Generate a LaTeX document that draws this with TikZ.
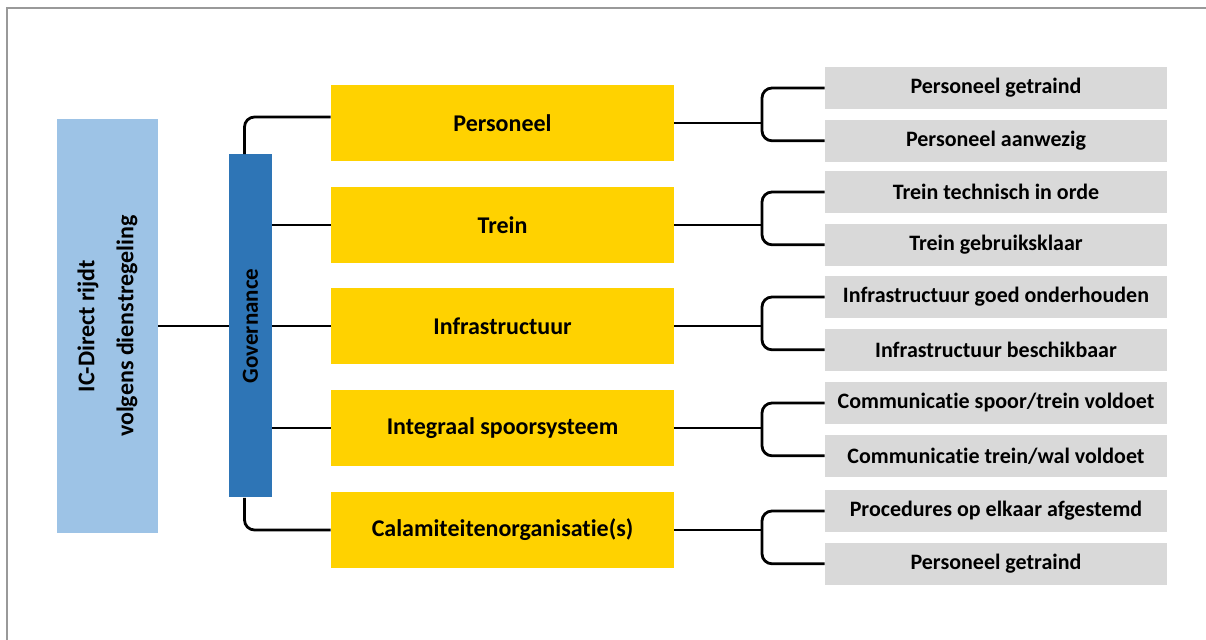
\documentclass[tikz,border=0pt]{standalone}
\usepackage{fontspec}
\setmainfont{Carlito}[RawFeature={-liga;-calt;-dlig}]
\usepackage{tikz}
\usetikzlibrary{positioning}
\definecolor{icblue}{HTML}{9DC3E6}
\definecolor{govblue}{HTML}{2E75B6}
\definecolor{aspectyellow}{HTML}{FFD200}
\definecolor{condgrey}{HTML}{D9D9D9}
\tikzstyle{box}=[inner sep=0pt,text=black]
\tikzstyle{top}=[box,fill=icblue,rotate=90,minimum width=207pt,minimum height=50.5pt,align=center,font=\fontsize{12}{19.5}\selectfont\bfseries]
\tikzstyle{gov}=[box,fill=govblue,rotate=90,minimum width=171.5pt,minimum height=21.5pt,font=\fontsize{11.5}{13}\selectfont\bfseries]
\tikzstyle{aspect}=[box,fill=aspectyellow,minimum width=171.5pt,minimum height=38pt,font=\fontsize{12}{14}\selectfont\bfseries]
\tikzstyle{cond}=[box,fill=condgrey,minimum width=171pt,minimum height=21pt,font=\fontsize{11}{13}\selectfont\bfseries]
\tikzstyle{link}=[line width=1.4pt]
\tikzstyle{brace}=[link,rounded corners=5pt]
\begin{document}
\begin{tikzpicture}[x=0.5pt,y=-0.5pt]
	\useasboundingbox (0,0) rectangle (1206,640);
	\draw[gray!80,line width=1pt] (7,640) -- (7,8) -- (1206,8);
	\node[top] (ic)  at (107.5,326) {IC-Direct rijdt\\volgens dienstregeling};
	\node[gov] (gov) at (250.5,326) {Governance};
	\node[aspect] (pers)  at (502.5,123) {Personeel};
	\node[aspect] (trein) at (502.5,225) {Trein};
	\node[aspect] (infra) at (502.5,326) {Infrastructuur};
	\node[aspect] (integ) at (502.5,428) {Integraal spoorsysteem};
	\node[aspect] (calam) at (502.5,530) {Calamiteitenorganisatie(s)};
	\node[cond] (pers-a)  at (996,88)  {Personeel getraind};
	\node[cond, below=5pt of pers-a]  (pers-b)  {Personeel aanwezig};
	\node[cond] (trein-a) at (996,192) {Trein technisch in orde};
	\node[cond, below=5pt of trein-a] (trein-b) {Trein gebruiksklaar};
	\node[cond] (infra-a) at (996,297) {Infrastructuur goed onderhouden};
	\node[cond, below=5pt of infra-a] (infra-b) {Infrastructuur beschikbaar};
	\node[cond] (integ-a) at (996,403) {Communicatie spoor/trein voldoet};
	\node[cond, below=5pt of integ-a] (integ-b) {Communicatie trein/wal voldoet};
	\node[cond] (calam-a) at (996,511) {Procedures op elkaar afgestemd};
	\node[cond, below=5pt of calam-a] (calam-b) {Personeel getraind};
	\coordinate (bx) at (762,0);
	\draw[link] (ic) -- (gov);
	\draw[brace] ([xshift=-3pt]gov.east) |- ([yshift=3pt]pers.west);
	\draw[link] (gov.south |- trein.west) -- (trein.west);
	\draw[link] (gov.south |- infra.west) -- (infra.west);
	\draw[link] (gov.south |- integ.west) -- (integ.west);
	\draw[brace] ([xshift=-3pt]gov.west) |- (calam.west);
	\foreach \g in {pers,trein,infra,integ,calam}{
		\draw[link] (\g.east) -- (\g.east -| bx);
		\draw[brace] (\g-a.west) -- (\g-a.west -| bx) -- (\g-b.west -| bx) -- (\g-b.west);
	}
\end{tikzpicture}
\end{document}
